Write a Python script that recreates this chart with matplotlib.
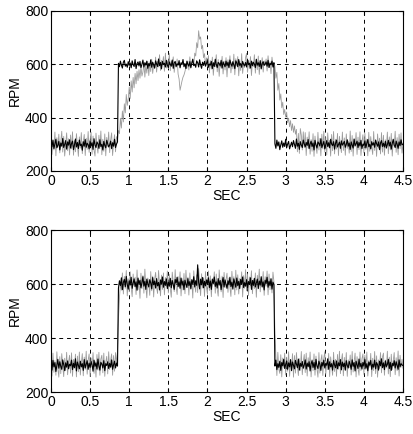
import numpy as np
import matplotlib
matplotlib.use("Agg")
import matplotlib.pyplot as plt

plt.rcParams['font.family'] = ['Liberation Sans', 'DejaVu Sans']

dt = 0.0125  # sample spacing, s (20 samples per row = 0.25 s)

# upper plot: reference speed (dark) and measured speed (grey)
ref_top = [int(v) for v in """
308 291 315 284 302 319 287 296 311 279 305 293 322 288 300 314 282 309 297 317
286 303 312 280 298 320 290 307 284 316 295 301 278 310 293 318 289 304 299 283
313 294 306 281 321 297 288 309 302 285 317 292 300 279 311 296 287 315 303 290
298 312 284 306 293 319 288 301 309 604 591 612 597 586 608 615 593 601 589 610
596 605 587 613 599 592 618 584 603 609 594 611 588 600 616 590 606 597 612 585
603 594 617 589 608 598 586 613 601 592 620 595 607 583 611 599 604 590 615 597
588 609 600 593 616 585 605 611 592 602 597 614 587 606 599 618 591 603 584 612
600 593 610 587 604 619 595 601 589 613 606 590 617 598 585 608 596 611 593 603
614 589 601 597 611 584 606 592 619 599 588 607 603 594 615 586 609 600 591 612
595 608 587 616 602 593 610 598 584 613 605 591 618 596 603 589 611 600 594 607
590 617 599 604 586 612 595 608 601 588 619 597 606 592 614 583 603 610 596 601
609 593 615 588 604 598 612 590 606 302 285 316 294 309 280 298 313 289 305 292
319 287 301 311 283 296 308 291 314 299 285 320 293 304 281 310 297 288 316 302
290 307 296 318 284 301 312 292 305 279 315 298 286 309 303 294 321 288 300 311
283 298 314 292 306 287 319 301 295 310 282 304 316 290 299 308 285 313 297 303
311 289 300 317 293 305 281 309 298 286 320 295 302 312 288 307 294 315 284 301
296 313 287 304 318 291 300 283 310 297 306 289 316 302 293 309 280 305 314 292
304 290 311 286 299 315 294 308 282 303 319 297 288 312 300 285 309 295 317 298
301
""".split()]

meas_top = [int(v) for v in """
341 262 318 279 346 257 325 290 338 268 311 349 271 330 256 302 343 276 321 260
335 283 347 259 314 272 340 297 255 328 286 344 265 309 337 258 323 281 348 270
316 345 263 331 278 256 342 299 267 334 285 350 261 319 274 339 257 326 292 346
269 317 343 258 305 336 272 329 318 352 340 398 361 425 384 452 418 487 446 470
515 472 538 496 551 512 566 527 574 539 580 548 592 556 571 603 552 598 567 611
558 604 573 619 566 598 585 627 571 611 590 636 577 615 598 629 574 642 586 613
584 641 576 612 595 628 570 606 589 620 563 545 503 520 538 552 560 573 590 585
612 579 628 594 607 620 595 642 631 681 662 726 694 703 658 671 625 640 598 624
596 633 568 614 582 627 559 605 591 636 572 618 555 609 586 630 564 612 579 625
553 617 590 632 568 606 583 638 561 621 594 629 557 611 577 640 566 603 588 626
641 570 615 584 629 558 609 592 636 567 618 580 631 562 606 589 625 571 613 597
620 575 632 588 610 565 627 596 604 592 548 570 503 528 466 489 437 458 412 431
402 421 381 398 366 389 352 377 345 369 338 356 272 341 266 359 335 279 347 288
344 258 327 286 347 263 318 274 340 255 331 292 266 345 279 322 257 338 283 349
271 326 260 343 289 315 256 337 276 348 264 319 282 341 258 330 295 269 346 277
324 259 339 285 312 267 350 273 333 256 318 291 344 262 327 280 347 258 309 336
268 342 281 320 257 345 274 329 290 262 348 277 316 255 339 286 323 264 344 271
334 259 317 287 346 265 328 279 341 256 312 297 349 270 325 261 338 284 343 267
300
""".split()]

# lower plot
ref_bot = [int(v) for v in """
304 281 317 293 309 276 298 321 288 312 295 284 319 301 279 308 292 315 286 303
297 318 283 306 290 323 278 311 299 286 314 293 305 280 320 289 302 316 284 307
291 313 300 277 318 295 308 285 322 296 281 310 303 289 316 279 305 298 312 287
306 292 319 284 301 314 289 307 296 585 612 594 623 579 606 617 590 628 598 581
611 596 625 584 603 619 590 608 577 622 599 614 586 605 627 592 610 580 618 601
589 616 604 582 624 597 611 585 620 593 606 578 615 600 626 588 609 595 619 583
607 592 621 586 613 598 580 617 603 625 590 608 584 622 596 611 579 614 601 587
620 594 609 583 616 600 627 589 612 595 671 605 582 618 597 624 586 610 593 615
598 623 587 611 580 617 602 626 591 608 585 620 596 613 579 606 624 589 615 600
584 612 597 625 590 607 581 619 603 588 622 594 610 583 617 599 626 587 605 592
616 586 609 598 623 580 613 595 621 589 604 618 583 611 596 627 590 608 578 614
602 625 588 610 594 619 581 607 598 296 318 283 305 291 314 280 309 297 321 287
302 315 284 308 293 320 279 311 298 286 317 303 290 322 281 306 295 313 288 300
319 285 307 294 312 278 304 316 291 309 283 321 297 287 314 302 280 310 296 318
289 306 299 323 284 312 293 305 281 317 300 290 315 286 308 297 320 282 311 294
307 281 316 298 289 313 302 284 319 295 309 278 314 301 287 322 293 306 285 310
296 320 288 305 279 311 299 317 284 303 292 318 286 309 301 281 314 297 323 290
308 283 315 294 302 321 287 310 280 306 297 316 289 312 299 284 319 293 305 300
298
""".split()]

meas_bot = [int(v) for v in """
338 259 344 273 316 262 349 287 255 331 268 342 296 257 325 279 347 264 312 336
270 345 258 321 289 340 256 333 275 348 263 307 342 260 329 284 351 266 318 341
257 326 293 346 269 314 255 339 281 347 262 322 336 271 344 258 310 332 267 349
283 318 341 262 335 277 346 305 352 470 548 602 577 641 563 628 584 650 556 619
571 645 588 553 637 596 625 561 652 579 608 547 640 583 631 566 655 590 549 622
604 558 646 575 629 552 618 643 587 565 650 598 556 633 580 641 560 624 592 648
567 636 583 551 644 609 572 653 588 561 627 597 645 556 620 578 639 564 651 593
625 559 641 580 612 548 649 595 570 634 568 657 601 557 638 585 623 554 646 589
562 648 576 630 553 621 598 645 566 637 581 555 652 606 571 629 550 643 587 616
640 569 622 588 554 647 593 627 560 651 578 634 563 620 598 645 552 631 584 653
575 638 557 626 594 649 564 615 583 641 551 632 600 655 571 618 586 646 558 627
592 648 560 637 579 621 567 644 608 415 332 261 347 285 269 338 256 326 291 344
263 329 277 349 258 318 286 342 255 335 270 346 297 261 323 280 350 264 313 339
272 344 259 327 291 348 256 320 279 341 262 333 287 255 346 270 317 338 261 325
349 266 311 283 343 257 330 295 262 347 276 321 258 339 284 351 268 315 342 260
328 281 346 258 319 290 337 263 350 274 312 344 256 331 287 262 348 279 323 341
265 337 283 348 259 316 292 343 257 325 279 350 268 334 255 319 287 346 271 330
344 262 318 289 351 267 329 257 340 283 313 346 264 327 279 352 259 336 292 321
288
""".split()]

xticks = [0, 0.5, 1, 1.5, 2, 2.5, 3, 3.5, 4, 4.5]
xticklabels = ['0', '0.5', '1', '1.5', '2', '2.5', '3', '3.5', '4', '4.5']
yticks = [200, 400, 600, 800]

fig = plt.figure(figsize=(4.14, 4.34), dpi=100)
W, H = 414, 434
ax1 = fig.add_axes([51 / W, 1 - 171 / H, 352 / W, 160 / H])
ax2 = fig.add_axes([51 / W, 1 - 392 / H, 352 / W, 162 / H])

for ax, ref, meas in [(ax1, ref_top, meas_top), (ax2, ref_bot, meas_bot)]:
    t_meas = np.arange(len(meas)) * dt
    t_ref = np.arange(len(ref)) * dt
    ax.plot(t_meas, meas, color='#9c9c9c', lw=0.6)
    ax.plot(t_ref, ref, color='black', lw=0.8)
    ax.set_xlim(0, 4.5)
    ax.set_ylim(200, 800)
    ax.set_xticks(xticks)
    ax.set_xticklabels(xticklabels)
    ax.set_yticks(yticks)
    ax.grid(True, color='black', ls=(0, (4, 4)), lw=0.7)
    ax.tick_params(direction='in', length=3, labelsize=10, pad=2,
                   top=True, right=True)
    for s in ax.spines.values():
        s.set_linewidth(0.8)
    ax.set_xlabel('SEC', fontsize=10, labelpad=1)
    ax.set_ylabel('RPM', fontsize=10, labelpad=2)

fig.savefig('out.png', dpi=100)
